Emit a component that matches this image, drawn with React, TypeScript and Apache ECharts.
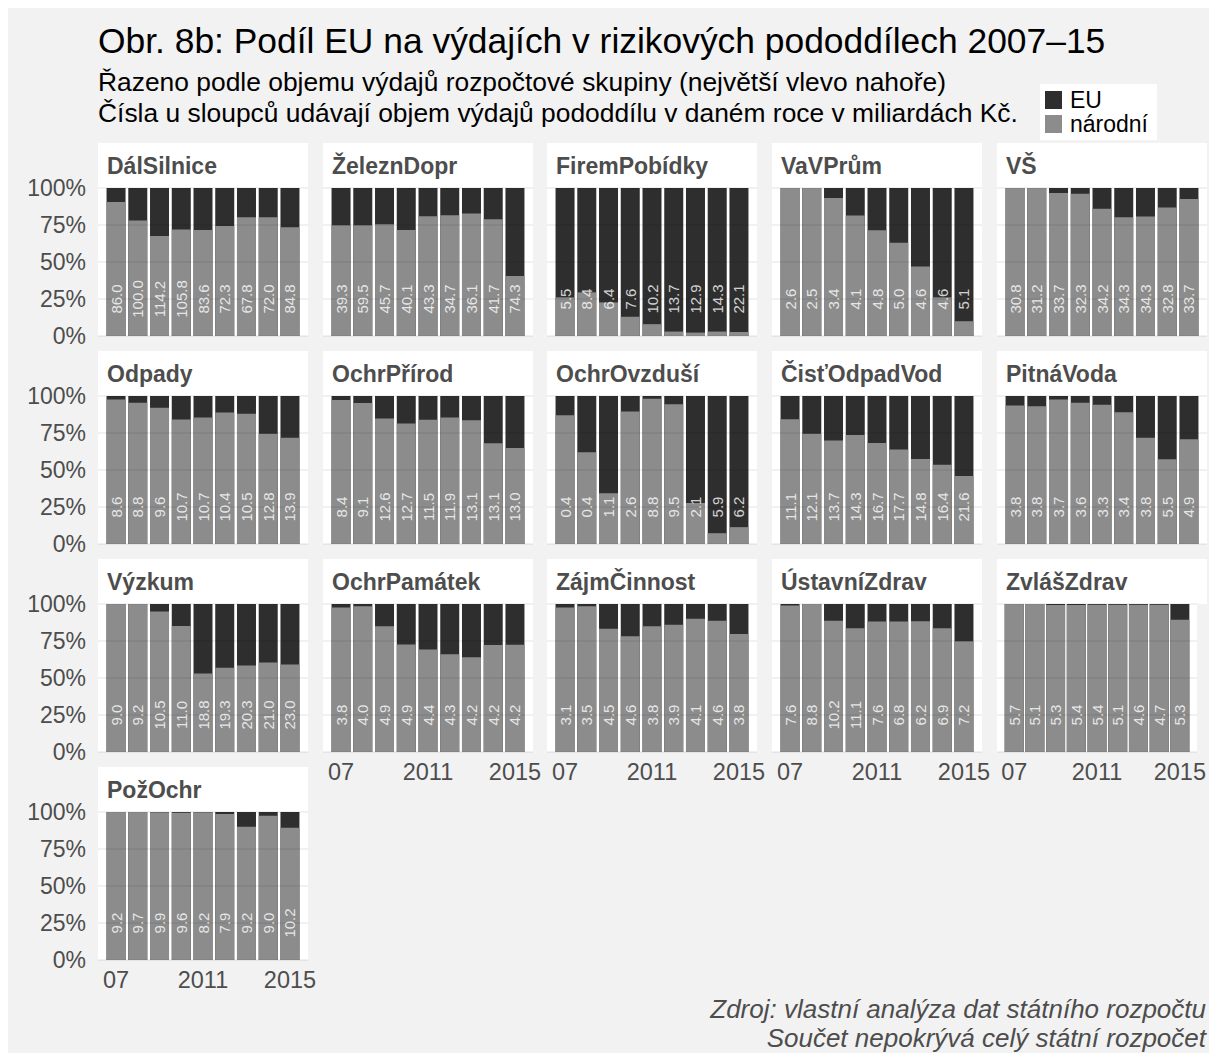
import React, { useEffect, useRef } from "react";
import * as echarts from "echarts";

// ---------- DATA ----------
const years = [2007, 2008, 2009, 2010, 2011, 2012, 2013, 2014, 2015];
const xTickValues = [2007, 2011, 2015];
const yTickValues = [0, 25, 50, 75, 100];

const panelNames = [
  "DálSilnice", "ŽeleznDopr", "FiremPobídky", "VaVPrům", "VŠ",
  "Odpady", "OchrPřírod", "OchrOvzduší", "ČisťOdpadVod", "PitnáVoda",
  "Výzkum", "OchrPamátek", "ZájmČinnost", "ÚstavníZdrav", "ZvlášZdrav",
  "PožOchr",
];

// total spending (bn CZK) per year
const totDalSilnice = [86.0, 100.0, 114.2, 105.8, 83.6, 72.3, 67.8, 72.0, 84.8];
const totZeleznDopr = [39.3, 59.5, 45.7, 40.1, 43.3, 34.7, 36.1, 41.7, 74.3];
const totFiremPobidky = [5.5, 8.4, 6.4, 7.6, 10.2, 13.7, 12.9, 14.3, 22.1];
const totVaVPrum = [2.6, 2.5, 3.4, 4.1, 4.8, 5.0, 4.6, 4.6, 5.1];
const totVS = [30.8, 31.2, 33.7, 32.3, 34.2, 34.3, 34.3, 32.8, 33.7];
const totOdpady = [8.6, 8.8, 9.6, 10.7, 10.7, 10.4, 10.5, 12.8, 13.9];
const totOchrPrirod = [8.4, 9.1, 12.6, 12.7, 11.5, 11.9, 13.1, 13.1, 13.0];
const totOchrOvzdusi = [0.4, 0.4, 1.1, 2.6, 8.8, 9.5, 2.1, 5.9, 6.2];
const totCistOdpadVod = [11.1, 12.1, 13.7, 14.3, 16.7, 17.7, 14.8, 16.4, 21.6];
const totPitnaVoda = [3.8, 3.8, 3.7, 3.6, 3.3, 3.4, 3.8, 5.5, 4.9];
const totVyzkum = [9.0, 9.2, 10.5, 11.0, 18.8, 19.3, 20.3, 21.0, 23.0];
const totOchrPamatek = [3.8, 4.0, 4.9, 4.9, 4.4, 4.3, 4.2, 4.2, 4.2];
const totZajmCinnost = [3.1, 3.5, 4.5, 4.6, 3.8, 3.9, 4.1, 4.6, 3.8];
const totUstavniZdrav = [7.6, 8.8, 10.2, 11.1, 7.6, 6.8, 6.2, 6.9, 7.2];
const totZvlasZdrav = [5.7, 5.1, 5.3, 5.4, 5.4, 5.1, 4.6, 4.7, 5.3];
const totPozOchr = [9.2, 9.7, 9.9, 9.6, 8.2, 7.9, 9.2, 9.0, 10.2];

// national share (%) per year; EU share is the remainder
const narDalSilnice = [90.5, 78, 67.5, 72, 71.6, 74.3, 80.2, 80.2, 73.4];
const narZeleznDopr = [74.8, 74.8, 75.5, 71.6, 80.9, 81.6, 82.7, 78.9, 40.5];
const narFiremPobidky = [26.1, 29.5, 22.7, 13, 8, 3, 2.3, 3, 2.7];
const narVaVPrum = [100, 100, 93.2, 81.4, 71.4, 63, 47, 26.1, 10];
const narVS = [100, 100, 96.6, 96.1, 85.9, 80.2, 80.7, 86.8, 92.5];
const narOdpady = [97.7, 95.5, 92, 84.1, 85.5, 88.9, 88, 74.5, 71.8];
const narOchrPrirod = [97.3, 95.2, 84.8, 81.4, 83.9, 85.5, 83.6, 68, 64.8];
const narOchrOvzdusi = [87, 62, 34.3, 89.5, 98.2, 94.5, 27.7, 7.3, 11.4];
const narCistOdpadVod = [84.3, 74.5, 70, 73.6, 68.2, 63.9, 57.5, 53.6, 45.9];
const narPitnaVoda = [93.6, 93, 97.7, 95.5, 94.1, 89.1, 71.8, 57.3, 70.7];
const narVyzkum = [100, 100, 95, 85.2, 53, 57, 58.4, 60.5, 59.1];
const narOchrPamatek = [97.7, 98.4, 85, 72.7, 69.3, 66.1, 64.1, 72.3, 72.5];
const narZajmCinnost = [97.7, 98.4, 83.2, 78.2, 85, 85.9, 90, 88.6, 79.8];
const narUstavniZdrav = [99, 100, 88.6, 83.6, 88.2, 88.2, 88.4, 83.6, 74.8];
const narZvlasZdrav = [100, 100, 99.3, 99.3, 99.5, 99.5, 99.5, 99.5, 89.3];
const narPozOchr = [100, 100, 99.8, 99.5, 99.8, 98.6, 90, 97.5, 89.3];

const totals = [
  totDalSilnice, totZeleznDopr, totFiremPobidky, totVaVPrum, totVS,
  totOdpady, totOchrPrirod, totOchrOvzdusi, totCistOdpadVod, totPitnaVoda,
  totVyzkum, totOchrPamatek, totZajmCinnost, totUstavniZdrav, totZvlasZdrav,
  totPozOchr,
];
const nationalShares = [
  narDalSilnice, narZeleznDopr, narFiremPobidky, narVaVPrum, narVS,
  narOdpady, narOchrPrirod, narOchrOvzdusi, narCistOdpadVod, narPitnaVoda,
  narVyzkum, narOchrPamatek, narZajmCinnost, narUstavniZdrav, narZvlasZdrav,
  narPozOchr,
];

const titleText = "Obr. 8b: Podíl EU na výdajích v rizikových pododdílech 2007–15";
const subtitleLines = [
  "Řazeno podle objemu výdajů rozpočtové skupiny (největší vlevo nahoře)",
  "Čísla u sloupců udávají objem výdajů pododdílu v daném roce v miliardách Kč.",
];
const captionLines = [
  "Zdroj: vlastní analýza dat státního rozpočtu",
  "Součet nepokrývá celý státní rozpočet",
];
const legendLabels = ["EU", "národní"];

// ---------- STYLE ----------
const FONT = "'Liberation Sans', Arial, Helvetica, sans-serif";
const COL_EU = "#2e2e2e";
const COL_NAT = "#8c8c8c";
const COL_TEXT = "#4d4d4d";
const BG = "#f2f2f2";

const PANEL_X = [90, 315, 539, 764, 989];
const PANEL_Y = [180, 388, 596, 804];
const PANEL_W = 210;
const PANEL_H = 148;
const STRIP_H = 45;

export default function App() {
  const ref = useRef<HTMLDivElement>(null);

  useEffect(() => {
    if (!ref.current) return;
    const chart = echarts.init(ref.current, null, { renderer: "svg" });

    const grids: any[] = [];
    const xAxes: any[] = [];
    const yAxes: any[] = [];
    const series: any[] = [];
    const graphics: any[] = [];

    const nPanels = panelNames.length;
    panelNames.forEach((name, i) => {
      const col = i % 5;
      const row = Math.floor(i / 5);
      const left = PANEL_X[col];
      const top = PANEL_Y[row];
      const isBottom = i + 5 >= nPanels;
      const isLeft = col === 0;

      grids.push({
        left,
        top,
        width: PANEL_W,
        height: PANEL_H,
        show: true,
        backgroundColor: "#ffffff",
        borderWidth: 0,
      });

      xAxes.push({
        type: "value",
        gridIndex: i,
        min: 2006.17,
        max: 2015.83,
        axisLine: { show: false },
        axisTick: { show: false },
        splitLine: { show: false },
        axisLabel: {
          show: isBottom,
          customValues: xTickValues,
          formatter: (v: number) => (v === 2007 ? "07" : String(v)),
          fontSize: 23.5,
          color: COL_TEXT,
          fontFamily: FONT,
          margin: 8,
        },
      });

      yAxes.push({
        type: "value",
        gridIndex: i,
        min: 0,
        max: 100,
        interval: 25,
        axisLine: { show: false },
        axisTick: { show: false },
        splitLine: { show: false },
        axisLabel: {
          show: isLeft,
          formatter: "{value}%",
          fontSize: 23,
          color: COL_TEXT,
          fontFamily: FONT,
          margin: 12,
        },
      });

      const nat = nationalShares[i];
      const eu = nat.map((v) => +(100 - v).toFixed(2));
      const tot = totals[i];

      // EU share drawn on top of the national share (cumulative top = national + EU)
      series.push({
        type: "bar",
        name: "EU",
        xAxisIndex: i,
        yAxisIndex: i,
        barWidth: 19,
        barGap: "-100%",
        itemStyle: { color: COL_EU },
        data: years.map((y, k) => [y, nat[k] + eu[k]]),
        z: 2,
      });
      series.push({
        type: "bar",
        name: "národní",
        xAxisIndex: i,
        yAxisIndex: i,
        barWidth: 19,
        barGap: "-100%",
        itemStyle: { color: COL_NAT },
        data: years.map((y, k) => [y, nat[k]]),
        z: 3,
      });
      series.push({
        type: "scatter",
        xAxisIndex: i,
        yAxisIndex: i,
        symbolSize: 1,
        itemStyle: { color: "transparent" },
        z: 5,
        silent: true,
        label: {
          show: true,
          position: "inside",
          rotate: 90,
          color: "#ffffff",
          fontSize: 15,
          fontFamily: FONT,
          formatter: (p: any) => Number(p.value[2]).toFixed(1),
        },
        data: years.map((y, k) => [y, 25, tot[k]]),
        markLine: {
          silent: true,
          symbol: ["none", "none"],
          label: { show: false },
          lineStyle: { color: "rgba(0,0,0,0.075)", width: 1.5, type: "solid" },
          data: yTickValues.map((v) => ({ yAxis: v })),
        },
      });

      // strip
      graphics.push({
        type: "rect",
        shape: { x: left, y: top - STRIP_H, width: PANEL_W, height: STRIP_H },
        style: { fill: "#ffffff" },
        silent: true,
      });
      graphics.push({
        type: "text",
        x: left + 9,
        y: top - STRIP_H / 2,
        style: {
          text: name,
          font: `bold 23px ${FONT}`,
          fill: COL_TEXT,
          textAlign: "left",
          textVerticalAlign: "middle",
          align: "left",
          verticalAlign: "middle",
        },
        silent: true,
      });
    });

    // title & subtitle
    graphics.push({
      type: "text",
      x: 90,
      y: 33,
      style: {
        text: titleText,
        font: `35.4px ${FONT}`,
        fill: "#000000",
        textAlign: "left",
        textVerticalAlign: "middle",
        align: "left",
        verticalAlign: "middle",
      },
    });
    subtitleLines.forEach((t, k) => {
      graphics.push({
        type: "text",
        x: 90,
        y: 74 + k * 31,
        style: {
          text: t,
          font: `26.4px ${FONT}`,
          fill: "#000000",
          textAlign: "left",
          textVerticalAlign: "middle",
          align: "left",
          verticalAlign: "middle",
        },
      });
    });
    captionLines.forEach((t, k) => {
      graphics.push({
        type: "text",
        x: 1198,
        y: 1001 + k * 29,
        style: {
          text: t,
          font: `italic 26px ${FONT}`,
          fill: COL_TEXT,
          textAlign: "right",
          textVerticalAlign: "middle",
          align: "right",
          verticalAlign: "middle",
        },
      });
    });

    // legend
    graphics.push({
      type: "rect",
      shape: { x: 1032, y: 76, width: 117, height: 56 },
      style: { fill: "#ffffff" },
    });
    [COL_EU, COL_NAT].forEach((c, k) => {
      graphics.push({
        type: "rect",
        shape: { x: 1037, y: 83 + k * 24, width: 17, height: 18 },
        style: { fill: c },
      });
      graphics.push({
        type: "text",
        x: 1062,
        y: 92 + k * 24,
        style: {
          text: legendLabels[k],
          font: `23px ${FONT}`,
          fill: "#000000",
          textAlign: "left",
          textVerticalAlign: "middle",
          align: "left",
          verticalAlign: "middle",
        },
      });
    });

    chart.setOption({
      animation: false,
      backgroundColor: BG,
      grid: grids,
      xAxis: xAxes,
      yAxis: yAxes,
      series,
      graphic: { elements: graphics },
    });

    return () => chart.dispose();
  }, []);

  return <div ref={ref} style={{ width: 1201, height: 1045 }} />;
}
